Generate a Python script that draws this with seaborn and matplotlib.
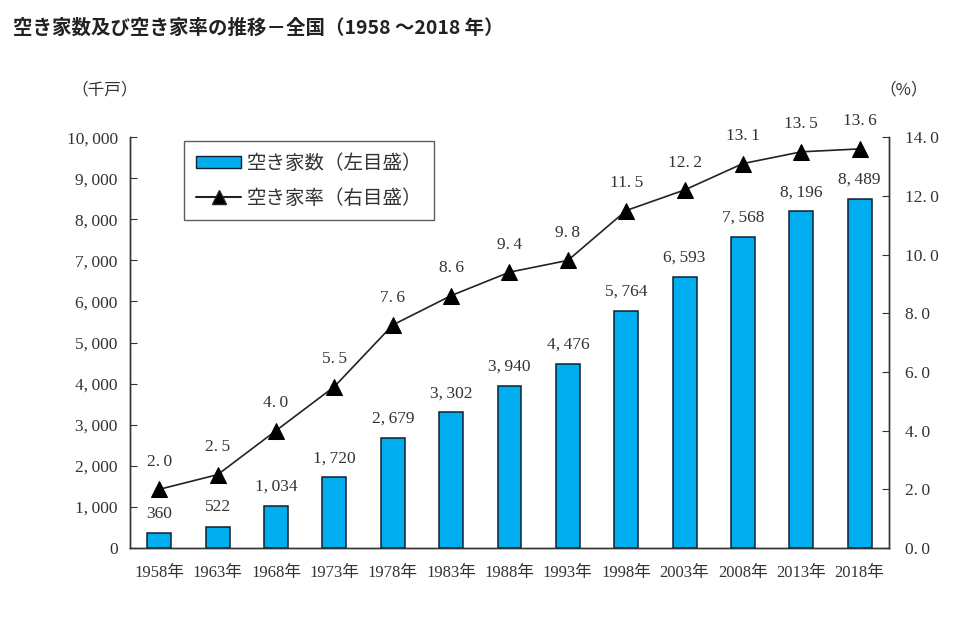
import numpy as np
import pandas as pd
import seaborn as sns
import matplotlib.pyplot as plt
from matplotlib.ticker import FixedLocator
from matplotlib.patches import Patch
from matplotlib.lines import Line2D

# values
years = ['1958年', '1963年', '1968年', '1973年', '1978年', '1983年', '1988年',
         '1993年', '1998年', '2003年', '2008年', '2013年', '2018年']
vacant_houses = [360, 522, 1034, 1720, 2679, 3302, 3940, 4476, 5764, 6593, 7568, 8196, 8489]
vacancy_rate = [2.0, 2.5, 4.0, 5.5, 7.6, 8.6, 9.4, 9.8, 11.5, 12.2, 13.1, 13.5, 13.6]
left_ticks = [0, 1000, 2000, 3000, 4000, 5000, 6000, 7000, 8000, 9000, 10000]
right_ticks = [0, 2, 4, 6, 8, 10, 12, 14]

df = pd.DataFrame({'year': years, 'count': vacant_houses, 'rate': vacancy_rate})

sns.set_style('white')
plt.rcParams['font.family'] = ['Liberation Serif', 'DejaVu Serif', 'Noto Sans CJK JP']

BAR = '#00aeef'
EDGE = '#10202e'
TXT = '#333333'


def num(v):
    return f'{v:,}'.replace(',', ',\u2009')


def pct(v):
    return f'{v:.1f}'.replace('.', '.\u2009')


fig = plt.figure(figsize=(9.64, 6.35), dpi=100)
ax = fig.add_axes([0.135, 0.137, 0.787, 0.647])

sns.barplot(data=df, x='year', y='count', color=BAR, saturation=1,
            width=0.41, edgecolor=EDGE, linewidth=1.1, ax=ax, zorder=2)
ax.set_xlim(-0.5, len(years) - 0.5)
ax.set_ylim(0, 10000)
ax.set_xlabel('')
ax.set_ylabel('')

ax2 = ax.twinx()
sns.lineplot(x=np.arange(len(years)), y=df['rate'], ax=ax2, color='#222222',
             linewidth=1.2, marker='^', markersize=11, markeredgecolor='black',
             markerfacecolor='black', zorder=3)
ax2.set_ylim(0, 14)
ax2.set_ylabel('')

# spines / ticks
for a in (ax, ax2):
    a.spines['top'].set_visible(False)
    for s in ('left', 'right', 'bottom'):
        a.spines[s].set_color(TXT)
        a.spines[s].set_linewidth(1.0)

ax.set_yticks(left_ticks)
ax.set_yticklabels([num(v) for v in left_ticks], fontsize=12.5)
ax.tick_params(axis='y', direction='in', length=5, pad=9, colors=TXT)
ax.set_xticks(range(len(years)))
ax.set_xticklabels(years, fontsize=12)
ax.tick_params(axis='x', length=0, pad=12, colors=TXT)
ax.xaxis.set_minor_locator(FixedLocator(np.arange(0.5, len(years) - 1, 1.0)))
ax.tick_params(axis='x', which='minor', direction='in', length=4, color=TXT)

ax2.set_yticks(right_ticks)
ax2.set_yticklabels([pct(v) for v in right_ticks], fontsize=12.5)
ax2.tick_params(axis='y', direction='in', length=5, pad=12, colors=TXT)

# data labels
for i, v in enumerate(vacant_houses):
    ax.annotate(num(v), (i, v), xytext=(0, 8), textcoords='offset points',
                ha='center', va='bottom', fontsize=12.5, color=TXT)
for i, v in enumerate(vacancy_rate):
    ax2.annotate(pct(v), (i, v), xytext=(0, 14), textcoords='offset points',
                 ha='center', va='bottom', fontsize=12.5, color=TXT)

# legend
handles = [Patch(facecolor=BAR, edgecolor=EDGE, label='空き家数（左目盛）'),
           Line2D([0], [0], color='#222222', marker='^', markersize=10,
                  markerfacecolor='black', label='空き家率（右目盛）')]
leg = ax.legend(handles=handles, loc='upper center', bbox_to_anchor=(0.236, 0.99),
                borderaxespad=0, frameon=True, fancybox=False, edgecolor=TXT,
                handlelength=2.3, handleheight=0.5, handletextpad=0.3,
                labelspacing=0.7, borderpad=0.6,
                prop={'family': ['Noto Sans CJK JP'], 'size': 14})
leg.get_frame().set_linewidth(1.0)
for t in leg.get_texts():
    t.set_color(TXT)
ax.set_zorder(ax2.get_zorder() + 1)
ax.patch.set_visible(False)
ax2.patch.set_visible(True)

# unit labels and title
fig.text(0.074, 0.852, '（千戸）', fontsize=12, family=['Noto Sans CJK JP'], color=TXT)
fig.text(0.912, 0.852, '（%）', fontsize=12, family=['Noto Sans CJK JP'], color=TXT)
fig.text(0.014, 0.955, '空き家数及び空き家率の推移－全国（1958 ～2018 年）', fontsize=14,
         fontweight='bold', family=['Noto Sans CJK JP'], color='#222222', va='center')

fig.savefig('out.png', dpi=100, facecolor='white')
